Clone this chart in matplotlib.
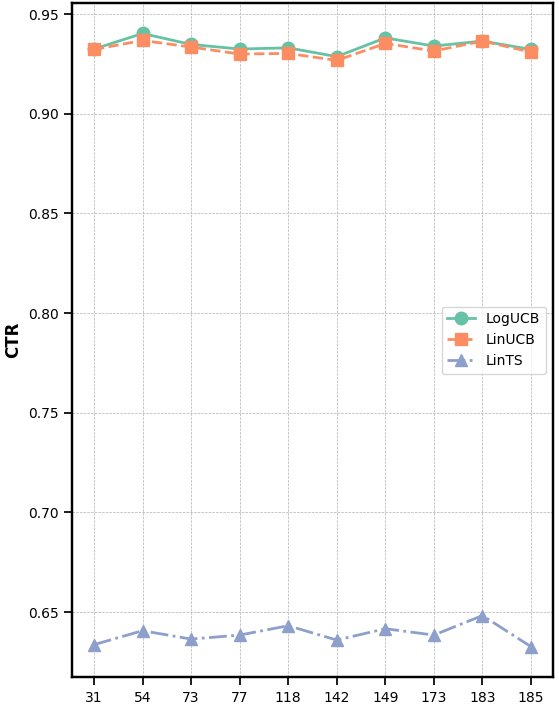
import matplotlib
matplotlib.use("Agg")
import matplotlib.pyplot as plt
import numpy as np

datasets = ["31", "54", "73", "77", "118", "142", "149", "173", "183", "185"]
logucb = [0.9325, 0.9403, 0.9348, 0.9325, 0.9331, 0.9287, 0.9381, 0.9340, 0.9365, 0.9323]
linucb = [0.9323, 0.9368, 0.9335, 0.9300, 0.9303, 0.9268, 0.9353, 0.9315, 0.9365, 0.9310]
lints = [0.6337, 0.6407, 0.6365, 0.6385, 0.6432, 0.6360, 0.6417, 0.6385, 0.6483, 0.6327]

colors = ["#66c2a5", "#fc8d62", "#8da0cb"]

plt.rcParams.update({
    "font.size": 11,
    "axes.linewidth": 1.75,
    "xtick.major.size": 6,
    "ytick.major.size": 6,
    "xtick.major.width": 1.25,
    "ytick.major.width": 1.25,
    "xtick.labelsize": 10,
    "ytick.labelsize": 10,
})

fig, ax = plt.subplots(figsize=(5.59, 7.07), dpi=100)
fig.subplots_adjust(left=0.129, right=0.989, top=0.996, bottom=0.042)

x = np.arange(len(datasets))
ax.plot(x, logucb, color=colors[0], marker="o", linestyle="-", linewidth=2, markersize=9, label="LogUCB")
ax.plot(x, linucb, color=colors[1], marker="s", linestyle="--", linewidth=2, markersize=9, label="LinUCB")
ax.plot(x, lints, color=colors[2], marker="^", linestyle="-.", linewidth=2, markersize=9, label="LinTS")

ax.set_xticks(x)
ax.set_xticklabels(datasets)
ax.set_ylabel("CTR", fontsize=12, fontweight="bold")
ax.grid(True, linestyle="--", linewidth=0.5, color="#b0b0b0")
ax.legend(loc="center right", fontsize=10)

fig.savefig("out.png", dpi=100)
